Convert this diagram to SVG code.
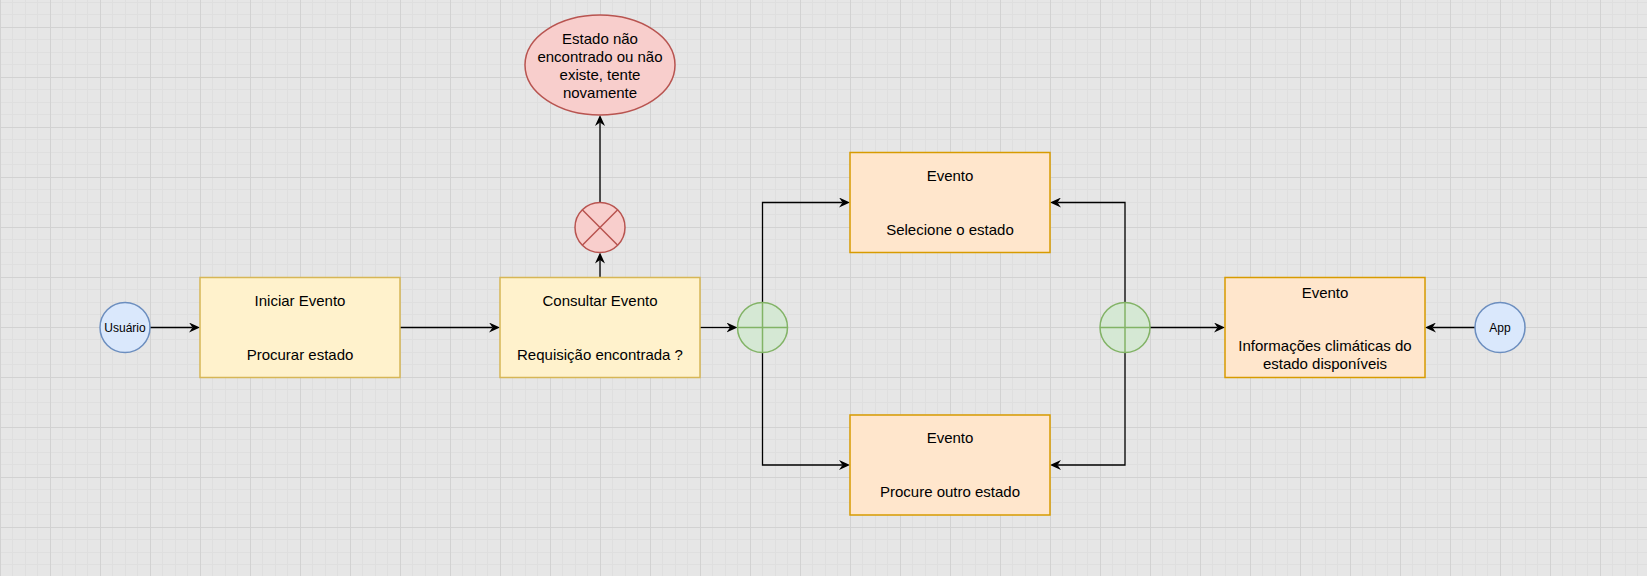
<svg xmlns="http://www.w3.org/2000/svg" width="1647" height="576" viewBox="0 0 1647 576">
<style>
.t{font-family:"Liberation Sans",Arial,Helvetica,sans-serif;font-size:15px;fill:#000;text-anchor:middle}
.s{font-size:12px}
.conn{fill:none;stroke:#000;stroke-width:1.3}
.yel{fill:#fff2cc;stroke:#d6b656;stroke-width:1.5}
.org{fill:#ffe6cc;stroke:#d79b00;stroke-width:1.5}
.red{fill:#f8cecc;stroke:#b85450;stroke-width:1.5}
.grn{fill:#d5e8d4;stroke:#82b366;stroke-width:1.5}
.blu{fill:#dae8fc;stroke:#6c8ebf;stroke-width:1.5}
</style>
<defs>
<pattern id="grid" x="0" y="27" width="50" height="50" patternUnits="userSpaceOnUse">
<rect width="50" height="50" fill="#e6e6e6"/>
<rect x="12" y="0" width="1" height="50" fill="#dfdfdf"/>
<rect x="25" y="0" width="1" height="50" fill="#dfdfdf"/>
<rect x="37" y="0" width="1" height="50" fill="#dfdfdf"/>
<rect x="0" y="12" width="50" height="1" fill="#dfdfdf"/>
<rect x="0" y="25" width="50" height="1" fill="#dfdfdf"/>
<rect x="0" y="37" width="50" height="1" fill="#dfdfdf"/>
<rect x="0" y="0" width="1" height="50" fill="#d2d2d2"/>
<rect x="0" y="0" width="50" height="1" fill="#d2d2d2"/>
</pattern>
<marker id="arr" viewBox="0 0 11 10" refX="3.5" refY="5" markerWidth="11" markerHeight="10" markerUnits="userSpaceOnUse" orient="auto">
<path d="M0,0 L11,5 L0,10 L3.5,5 Z" fill="#000"/>
</marker>
</defs>
<rect width="1647" height="576" fill="url(#grid)"/>

<g id="connectors">
<path class="conn" marker-end="url(#arr)" d="M150 327.5 H192.5"/>
<path class="conn" marker-end="url(#arr)" d="M400 327.5 H492.5"/>
<path class="conn" marker-end="url(#arr)" d="M600 277.5 V260"/>
<path class="conn" marker-end="url(#arr)" d="M600 202.5 V122.5"/>
<path class="conn" marker-end="url(#arr)" d="M700 327.5 H730"/>
<path class="conn" marker-end="url(#arr)" d="M762.5 302.5 V202.5 H842.5"/>
<path class="conn" marker-end="url(#arr)" d="M762.5 352.5 V465 H842.5"/>
<path class="conn" marker-end="url(#arr)" d="M1125 302.5 V202.5 H1057.5"/>
<path class="conn" marker-end="url(#arr)" d="M1125 352.5 V465 H1057.5"/>
<path class="conn" marker-end="url(#arr)" d="M1150 327.5 H1217.5"/>
<path class="conn" marker-end="url(#arr)" d="M1475 327.5 H1432.5"/>
</g>

<g id="usuario">
<circle class="blu" cx="125" cy="327.5" r="25"/>
<text class="t s" x="125" y="331.5">Usuário</text>
</g>

<g id="iniciar">
<rect class="yel" x="200" y="277.5" width="200" height="100"/>
<text class="t" x="300" y="306">Iniciar Evento</text>
<text class="t" x="300" y="360">Procurar estado</text>
</g>

<g id="consultar">
<rect class="yel" x="500" y="277.5" width="200" height="100"/>
<text class="t" x="600" y="306">Consultar Evento</text>
<text class="t" x="600" y="360">Requisição encontrada ?</text>
</g>

<g id="gateway-x">
<circle class="red" cx="600" cy="227.5" r="25"/>
<path d="M582.3 209.8 L617.7 245.2 M617.7 209.8 L582.3 245.2" stroke="#b85450" stroke-width="1.5"/>
</g>

<g id="erro">
<ellipse class="red" cx="600" cy="65" rx="75" ry="50"/>
<text class="t" x="600" y="43.5">Estado não</text>
<text class="t" x="600" y="61.5">encontrado ou não</text>
<text class="t" x="600" y="79.5">existe, tente</text>
<text class="t" x="600" y="97.5">novamente</text>
</g>

<g id="gateway-left">
<circle class="grn" cx="762.5" cy="327.5" r="25"/>
<path d="M737.5 327.5 H787.5 M762.5 302.5 V352.5" stroke="#82b366" stroke-width="1.5"/>
</g>

<g id="selecione">
<rect class="org" x="850" y="152.5" width="200" height="100"/>
<text class="t" x="950" y="181">Evento</text>
<text class="t" x="950" y="235">Selecione o estado</text>
</g>

<g id="procure">
<rect class="org" x="850" y="415" width="200" height="100"/>
<text class="t" x="950" y="443">Evento</text>
<text class="t" x="950" y="497">Procure outro estado</text>
</g>

<g id="gateway-right">
<circle class="grn" cx="1125" cy="327.5" r="25"/>
<path d="M1100 327.5 H1150 M1125 302.5 V352.5" stroke="#82b366" stroke-width="1.5"/>
</g>

<g id="informacoes">
<rect class="org" x="1225" y="277.5" width="200" height="100"/>
<text class="t" x="1325" y="298">Evento</text>
<text class="t" x="1325" y="351">Informações climáticas do</text>
<text class="t" x="1325" y="369">estado disponíveis</text>
</g>

<g id="app">
<circle class="blu" cx="1500" cy="327.5" r="25"/>
<text class="t s" x="1500" y="331.5">App</text>
</g>
</svg>
